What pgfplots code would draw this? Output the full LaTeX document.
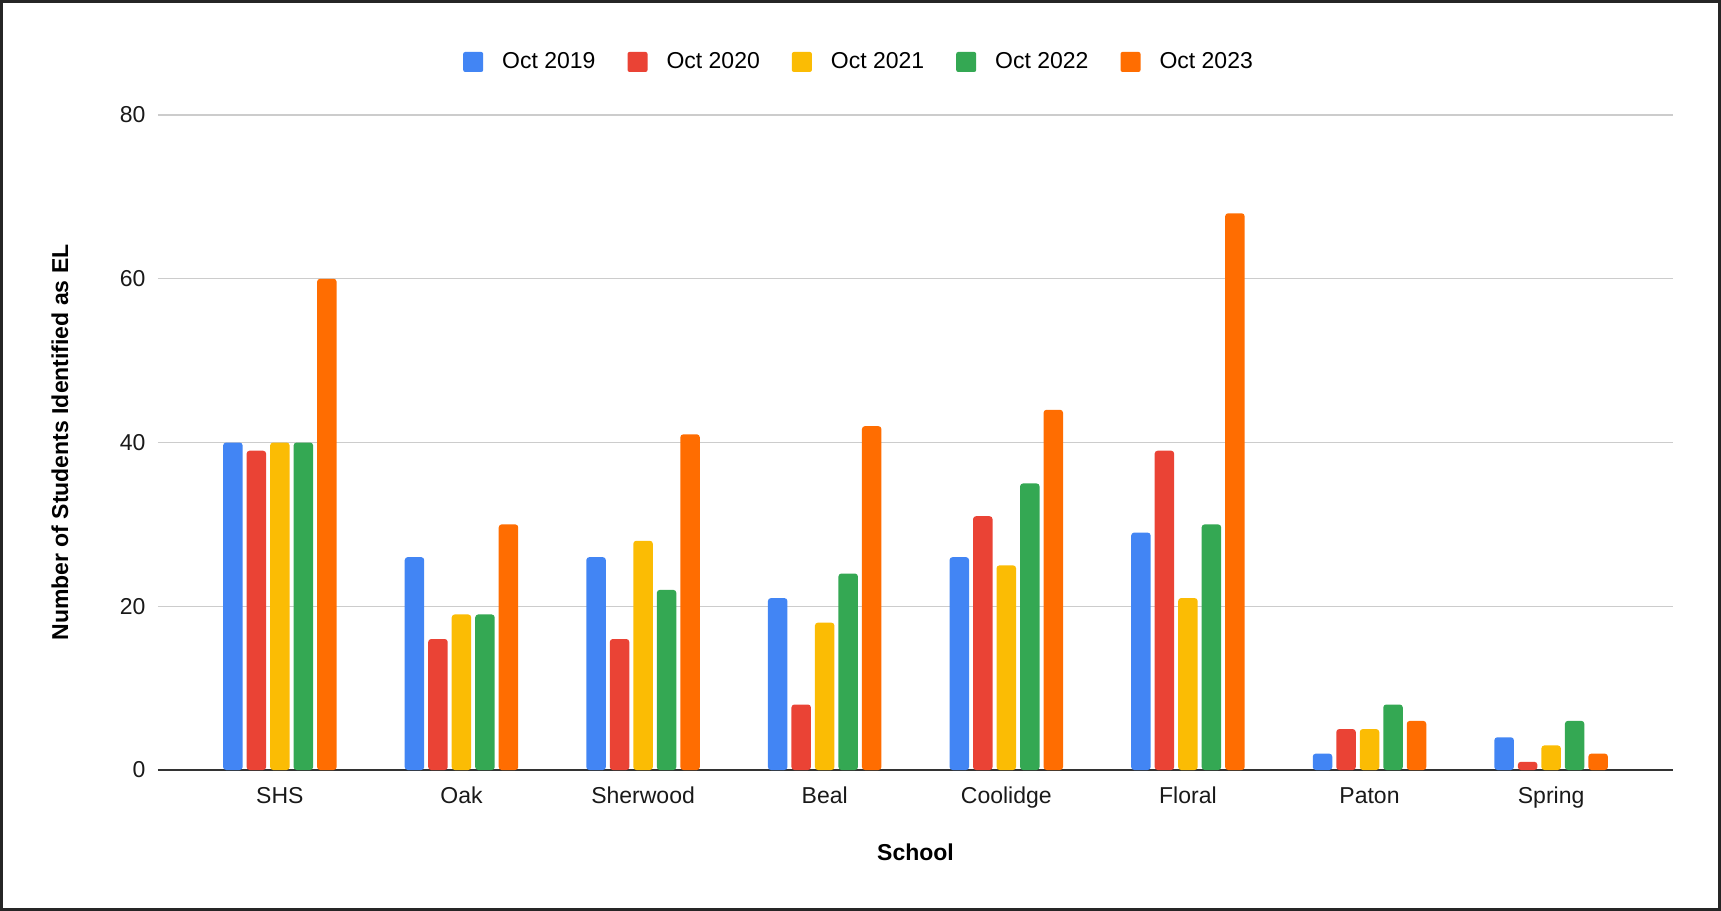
\documentclass[border=0pt]{standalone}
\usepackage{pgfplots}
\usepackage{pgfplotstable}
\pgfplotsset{compat=1.18}
\usepackage{fontspec}
\setmainfont{Liberation Sans}
\definecolor{cA}{HTML}{4285F4}
\definecolor{cB}{HTML}{EA4335}
\definecolor{cC}{HTML}{FBBC04}
\definecolor{cD}{HTML}{34A853}
\definecolor{cE}{HTML}{FF6D01}
\pgfplotstableread{
x a b c d e
0 40 39 40 40 60
1 26 16 19 19 30
2 26 16 28 22 41
3 21 8 18 24 42
4 26 31 25 35 44
5 29 39 21 30 68
6 2 5 5 8 6
7 4 1 3 6 2
}\datatable
\begin{document}
\begin{tikzpicture}[x=1pt,y=1pt]
\path[use as bounding box] (0,0) rectangle (860.5,455.5);
\draw[line width=1.5pt, black!85] (0.75,0.75) rectangle (859.75,454.75);
\begin{axis}[
  at={(79pt,70.5pt)}, anchor=south west,
  width=757.5pt, height=327.5pt, scale only axis,
  ybar=2pt, bar width=9.75pt,
  xmin=-0.671, xmax=7.671, ymin=0, ymax=80,
  xtick={0,...,7},
  xticklabels={SHS,Oak,Sherwood,Beal,Coolidge,Floral,Paton,Spring},
  ytick={0,20,40,60,80},
  axis lines*=left,
  y axis line style={draw=none},
  x axis line style={draw=black!80, line width=1pt, -},
  major tick length=0pt,
  ymajorgrids,
  grid style={draw=black!20, line width=0.7pt},
  /pgf/number format/assume math mode=true,
  tick label style={font=\fontsize{11.5}{13}\selectfont, text=black!90},
  xticklabel style={yshift=-4.5pt, text height=8.5pt},
  yticklabel style={xshift=-2.7pt},
  xlabel={School},
  ylabel={Number of Students Identified as EL},
  label style={font=\bfseries\fontsize{11.5}{13}\selectfont},
  xlabel style={at={(axis description cs:0.5,-0.125)}, anchor=center},
  ylabel style={at={(axis description cs:-0.0647,0.5)}, anchor=center},
  legend columns=5,
  legend style={draw=none, at={(axis description cs:0.4634,1.081)}, anchor=center,
    font=\fontsize{11.5}{13}\selectfont,
    /tikz/every odd column/.append style={column sep=7.5pt},
    /tikz/every even column/.append style={column sep=14pt}},
  legend image code/.code={\fill[#1, rounded corners=1pt] (0pt,-5pt) rectangle (10pt,5pt);},
  every axis plot/.append style={draw=none, rounded corners=1.5pt},
]
\addplot[fill=cA] table[x=x,y=a]{\datatable};
\addplot[fill=cB] table[x=x,y=b]{\datatable};
\addplot[fill=cC] table[x=x,y=c]{\datatable};
\addplot[fill=cD] table[x=x,y=d]{\datatable};
\addplot[fill=cE] table[x=x,y=e]{\datatable};
\legend{Oct 2019,Oct 2020,Oct 2021,Oct 2022,Oct 2023}
\end{axis}
\end{tikzpicture}
\end{document}
